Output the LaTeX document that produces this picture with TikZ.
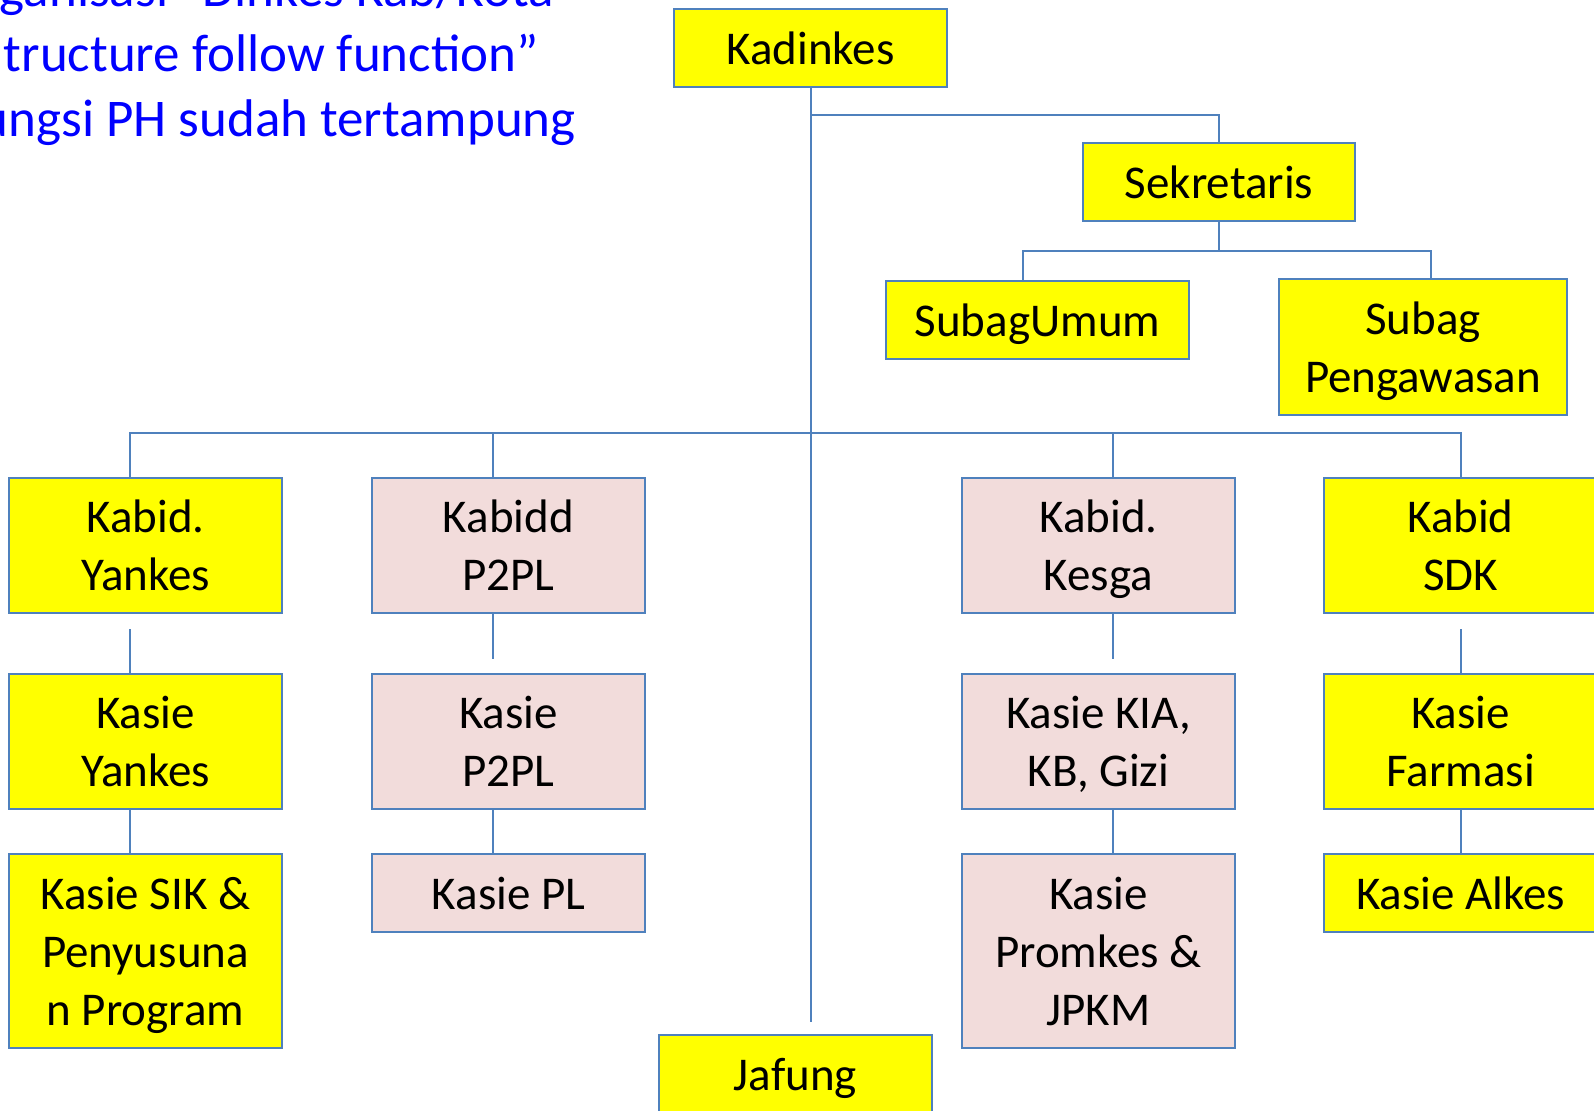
\documentclass[tikz,border=0pt]{standalone}
\usepackage{fontspec}
\setmainfont{Carlito}
\usetikzlibrary{calc}
\definecolor{bordblue}{HTML}{4F81BD}
\definecolor{boxyellow}{HTML}{FFFF00}
\definecolor{boxpink}{HTML}{F2DCDB}
\definecolor{titleblue}{HTML}{0000FF}
% last line of a box: ignore its descenders when centring
\newcommand{\lastln}[1]{\raisebox{0pt}[\height][0pt]{#1}}
\tikzset{
  box/.style={draw=bordblue, line width=1.8pt, fill=boxyellow, inner sep=0pt, outer sep=0pt,
    minimum width=273pt, anchor=north west, align=center,
    font=\fontsize{47}{58}\selectfont},
  pinkbox/.style={box, fill=boxpink},
  h1/.style={minimum height=78pt},
  h2/.style={minimum height=135pt},
  h3/.style={minimum height=194pt},
  conn/.style={draw=bordblue, line width=1.8pt},
  titletext/.style={text=titleblue, anchor=base east, inner sep=0pt,
    font=\fontsize{53}{64}\selectfont}
}
\begin{document}
\begin{tikzpicture}[x=1pt,y=-1pt]
\useasboundingbox (0,0) rectangle (1594,1110);
\clip (0,0) rectangle (1594,1110);

% title text (partly cut off at the edges, as in the reference)
\node[titletext] (t1) at (554,7) {ganisasi “Dinkes Kab/Kota};
\node[titletext] (t2) at (539,72) {tructure follow function”};
\node[titletext] (t3) at (576,137) {ungsi PH sudah tertampung};

% boxes
\node[box,h1,minimum width=273pt] (kad) at (674,9) {Kadinkes};
\node[box,h1,minimum width=272pt] (sek) at (1083,143) {Sekretaris};
\node[box,h1,minimum width=303pt] (umum) at (886,281) {\lastln{SubagUmum}};
\node[box,h2,minimum width=288pt,minimum height=136pt] (peng) at (1279,279) {Subag\\\lastln{Pengawasan}};

\node[box,h2] (kyank) at (9,478) {Kabid.\\\lastln{Yankes}};
\node[pinkbox,h2] (kp2pl) at (372,478) {Kabidd\\\lastln{P2PL}};
\node[pinkbox,h2] (kkesga) at (962,478) {Kabid.\\\lastln{Kesga}};
\node[box,h2] (ksdk) at (1324,478) {Kabid\\\lastln{SDK}};

\node[box,h2] (syank) at (9,674) {Kasie\\\lastln{Yankes}};
\node[pinkbox,h2] (sp2pl) at (372,674) {Kasie\\\lastln{P2PL}};
\node[pinkbox,h2] (skia) at (962,674) {Kasie KIA,\\\lastln{KB, Gizi}};
\node[box,h2] (sfarm) at (1324,674) {Kasie\\\lastln{Farmasi}};

\node[box,h3] (ssik) at (9,854) {Kasie SIK \&\\Penyusuna\\\lastln{n Program}};
\node[pinkbox,h1] (spl) at (372,854) {Kasie PL};
\node[pinkbox,h3] (sprom) at (962,854) {Kasie\\Promkes \&\\\lastln{JPKM}};
\node[box,h1] (salk) at (1324,854) {Kasie Alkes};

\node[box,h1] (jaf) at (659,1035) {\lastln{Jafung}};

% junction coordinates
\coordinate (trunkEnd) at (811,1022);
\coordinate (jSek) at (811,115);
\coordinate (jSub) at (1219,251);
\coordinate (umTop) at (1023,281);
\coordinate (pgTop) at (1431,279);
\coordinate (hL) at (130,433);
\coordinate (hR) at (1461,433);
\coordinate (xY) at (130,0);
\coordinate (xP) at (493,0);
\coordinate (xK) at (1113,0);
\coordinate (xS) at (1461,0);

% connectors
\draw[conn] (kad.south -| trunkEnd) -- (trunkEnd);
\draw[conn] (jSek) -| (sek.north -| jSub);
\draw[conn] (sek.south -| jSub) -- (jSub);
\draw[conn] (umTop) |- (jSub) -| (pgTop);
\draw[conn] (kyank.north -| hL) -- (hL) -- (hR) -- (ksdk.north -| hR);
\draw[conn] (hL -| xP) -- (kp2pl.north -| xP);
\draw[conn] (hL -| xK) -- (kkesga.north -| xK);

% second-level connectors (with gaps as in the original)
\draw[conn] ($(kyank.south -| xY)+(0,16)$) -- (syank.north -| xY);
\draw[conn] (kp2pl.south -| xP) -- ($(sp2pl.north -| xP)+(0,-15)$);
\draw[conn] (kkesga.south -| xK) -- ($(skia.north -| xK)+(0,-15)$);
\draw[conn] ($(ksdk.south -| xS)+(0,16)$) -- (sfarm.north -| xS);

\draw[conn] (syank.south -| xY) -- (ssik.north -| xY);
\draw[conn] (sp2pl.south -| xP) -- (spl.north -| xP);
\draw[conn] (skia.south -| xK) -- (sprom.north -| xK);
\draw[conn] (sfarm.south -| xS) -- (salk.north -| xS);
\end{tikzpicture}
\end{document}
